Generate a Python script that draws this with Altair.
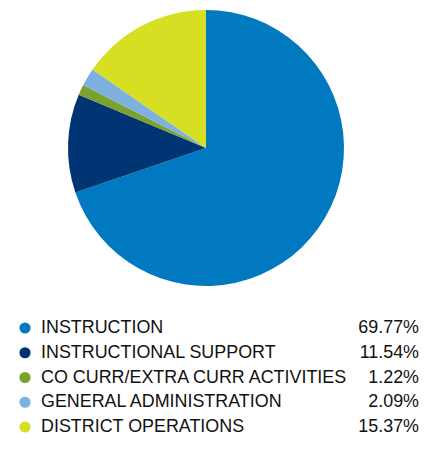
import altair as alt
import pandas as pd

categories = ["INSTRUCTION", "INSTRUCTIONAL SUPPORT", "CO CURR/EXTRA CURR ACTIVITIES",
              "GENERAL ADMINISTRATION", "DISTRICT OPERATIONS"]
values = [69.77, 11.54, 1.22, 2.09, 15.37]
labels = ["69.77%", "11.54%", "1.22%", "2.09%", "15.37%"]
colors = ["#0079C1", "#003473", "#7BA22E", "#7DB2E0", "#D7DF23"]

df = pd.DataFrame({"cat": categories, "val": values, "label": labels,
                   "idx": list(range(len(categories)))})

color_scale = alt.Scale(domain=categories, range=colors)
font = "Liberation Sans"

pie = alt.Chart(df).mark_arc(outerRadius=138, stroke=None).encode(
    theta=alt.Theta("val:Q", stack=True),
    color=alt.Color("cat:N", scale=color_scale, legend=None),
    order=alt.Order("idx:Q"),
    x=alt.value(198),
    y=alt.value(140),
)

yenc = alt.Y("idx:Q", scale=alt.Scale(domain=[0, 4], range=[320, 419]), axis=None)

dots = alt.Chart(df).mark_point(filled=True, size=125, opacity=1, shape="circle").encode(
    x=alt.value(17),
    y=yenc,
    color=alt.Color("cat:N", scale=color_scale, legend=None),
)

names = alt.Chart(df).mark_text(align="left", baseline="middle", font=font,
                                fontSize=17.9, color="#111111").encode(
    x=alt.value(33),
    y=yenc,
    text="cat:N",
)

pcts = alt.Chart(df).mark_text(align="right", baseline="middle", font=font,
                               fontSize=17.9, color="#111111").encode(
    x=alt.value(411),
    y=yenc,
    text="label:N",
)

chart = alt.layer(pie, dots, names, pcts).properties(
    width=412, height=427,
    autosize=alt.AutoSizeParams(type="none"),
    padding=0,
).configure_view(stroke=None)

chart.save("out.html", embed_options={"renderer": "svg", "actions": False})
